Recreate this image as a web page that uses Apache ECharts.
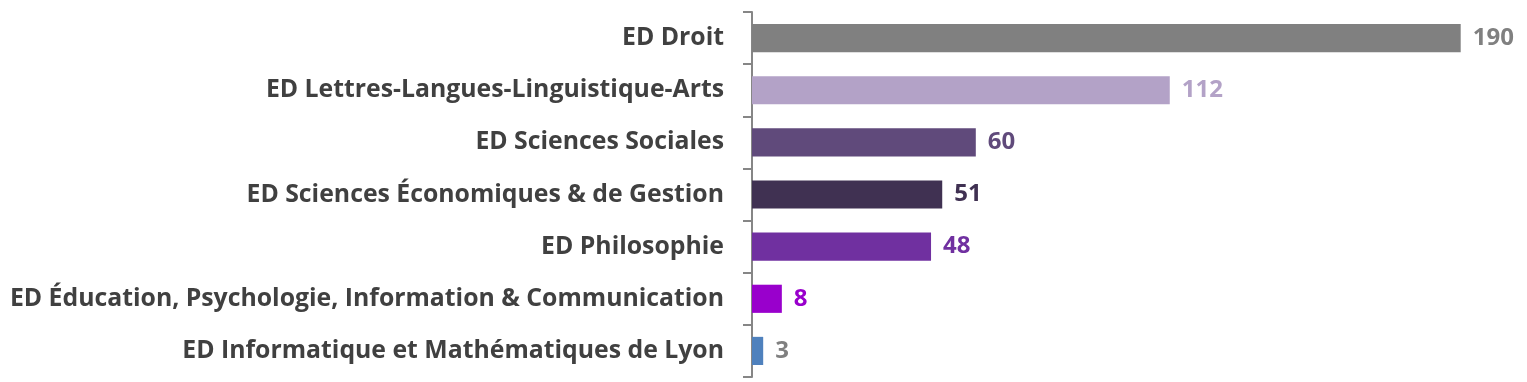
<!DOCTYPE html>
<html>
<head>
<meta charset="utf-8">
<script src="https://cdn.jsdelivr.net/npm/echarts@6/dist/echarts.min.js"></script>
<style>html,body{margin:0;padding:0;background:#fff;}#c{width:1527px;height:382px;}</style>
</head>
<body>
<div id="c"></div>
<script>
const categories = [
  "ED Droit",
  "ED Lettres-Langues-Linguistique-Arts",
  "ED Sciences Sociales",
  "ED Sciences Économiques & de Gestion",
  "ED Philosophie",
  "ED Éducation, Psychologie, Information & Communication",
  "ED Informatique et Mathématiques de Lyon"
];
const values = [190, 112, 60, 51, 48, 8, 3];
const barColors = ["#808080", "#b3a2c7", "#604a7b", "#403152", "#7030a0", "#9900cc", "#4f81bd"];
const labelColors = ["#808080", "#b3a2c7", "#604a7b", "#403152", "#7030a0", "#9900cc", "#808080"];

const chart = echarts.init(document.getElementById('c'));
chart.setOption({
  animation: false,
  grid: { left: 752, right: 29, top: 12, bottom: 5, containLabel: false },
  xAxis: { type: 'value', min: 0, max: 200, show: false },
  yAxis: {
    type: 'category',
    data: categories,
    inverse: true,
    axisLine: { show: true, lineStyle: { color: '#868686', width: 2 } },
    axisTick: { show: true, length: 9, lineStyle: { color: '#868686', width: 2 } },
    axisLabel: { margin: 28, color: '#404040', fontFamily: 'Open Sans', fontWeight: 'bold', fontSize: 24.8 }
  },
  series: [{
    type: 'bar',
    barCategoryGap: '46%',
    data: values.map((v, i) => ({
      value: v,
      itemStyle: { color: barColors[i] },
      label: { color: labelColors[i] }
    })),
    label: { show: true, position: 'right', distance: 12, fontFamily: 'Open Sans', fontWeight: 'bold', fontSize: 24 }
  }]
});
</script>
</body>
</html>
